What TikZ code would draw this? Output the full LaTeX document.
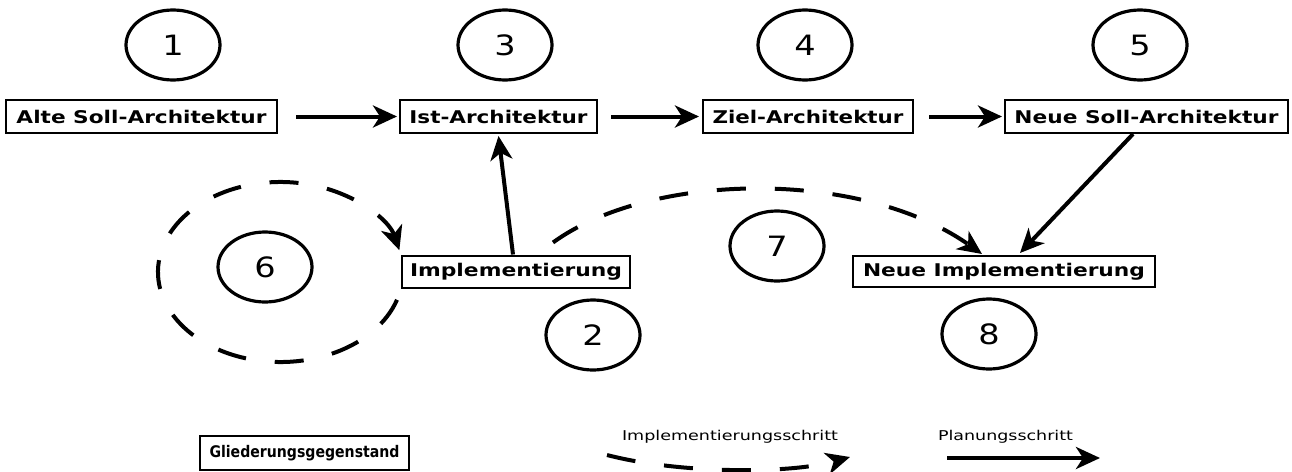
\documentclass[tikz,border=0pt]{standalone}
\usepackage{fontspec}
\setmainfont{DejaVu Sans}
\usepackage{graphicx}
\usetikzlibrary{arrows.meta,shapes.geometric}
% set a label to a fixed width, keeping its height
\newcommand\fitw[2]{\resizebox{#1}{\height}{#2}}
\begin{document}
\begin{tikzpicture}[x=1pt,y=-1pt,
  item/.style={draw, line width=2pt, inner sep=0pt, minimum height=33pt,
    font=\fontsize{17.5}{19}\selectfont\bfseries},
  num/.style={ellipse, draw, line width=3.2pt, minimum width=94pt, minimum height=70pt,
    inner sep=0pt, font=\fontsize{28}{30}\selectfont},
  plan/.style={line width=4pt, -{Stealth[length=24pt,width=22pt,inset=7pt]}},
  impl/.style={plan, dash pattern=on 29pt off 29pt},
  legendtxt/.style={font=\fontsize{13.5}{15}\selectfont}
]
\useasboundingbox[fill=white] (0,0) rectangle (1292,471);

% number circles
\node[num] (n1) at (173,45)   {\scalebox{1.2}[1]{1}};
\node[num] (n3) at (505,45)   {\scalebox{1.2}[1]{3}};
\node[num] (n4) at (805,45)   {\scalebox{1.2}[1]{4}};
\node[num] (n5) at (1140,45)  {\scalebox{1.2}[1]{5}};
\node[num] (n6) at (265,267)  {\scalebox{1.2}[1]{6}};
\node[num] (n7) at (777,246)  {\scalebox{1.2}[1]{7}};
\node[num] (n2) at (593,335)  {\scalebox{1.2}[1]{2}};
\node[num] (n8) at (989,334)  {\scalebox{1.2}[1]{8}};

% architecture and implementation items
\node[item, minimum width=271pt] (alt)   at (141.5,116.5) {\fitw{250pt}{Alte Soll-Architektur}};
\node[item, minimum width=197pt] (ist)   at (498.5,116.5) {\fitw{178pt}{Ist-Architektur}};
\node[item, minimum width=210pt] (ziel)  at (808,116.5)   {\fitw{191pt}{Ziel-Architektur}};
\node[item, minimum width=283pt] (nsoll) at (1146.5,116.5){\fitw{264pt}{Neue Soll-Architektur}};
\node[item, minimum width=228pt, minimum height=32pt] (impl) at (516,271.5) {\fitw{212pt}{Implementierung}};
\node[item, minimum width=302pt, minimum height=31pt] (nimpl) at (1004,271.5) {\fitw{282pt}{Neue Implementierung}};

% planning steps
\draw[plan, shorten <=18pt, shorten >=2pt] (alt) -- (ist);
\draw[plan, shorten <=13pt, shorten >=3pt] (ist) -- (ziel);
\draw[plan, shorten <=15pt, shorten >=2pt] (ziel) -- (nsoll);
\draw[plan] ([xshift=-3pt]impl.north) -- ([yshift=-2pt]ist.south);
\draw[plan] ([xshift=-13.5pt]nsoll.south) -- ([xshift=16pt,yshift=2pt]nimpl.north);

% implementation steps
\coordinate (loop) at (280.5,272);
\draw[impl] (loop) ++(18:122.5 and 90)
  arc[start angle=18, end angle=346, x radius=122.5, y radius=90];
\draw[impl] ([xshift=37pt,yshift=12pt]impl.north)
  .. controls (650,172) and (860,168) .. ([xshift=-22pt,yshift=1pt]nimpl.north);

% legend
\node[item, minimum width=209pt, minimum height=34pt, font=\fontsize{16}{18}\selectfont\bfseries]
  (leg) at (304.5,453) {\fitw{190pt}{Gliederungsgegenstand}};
\node[legendtxt] (limpl) at (730,437) {\fitw{216pt}{Implementierungsschritt}};
\node[legendtxt] (lplan) at (1005.5,437) {\fitw{135pt}{Planungsschritt}};
\coordinate (li1) at (607,455);
\coordinate (li2) at (850,457);
\draw[impl] (li1) .. controls (680,474) and (790,474) .. (li2);
\coordinate (lp1) at (947,458);
\coordinate (lp2) at (1100,458);
\draw[plan] (lp1) -- (lp2);
\end{tikzpicture}
\end{document}
